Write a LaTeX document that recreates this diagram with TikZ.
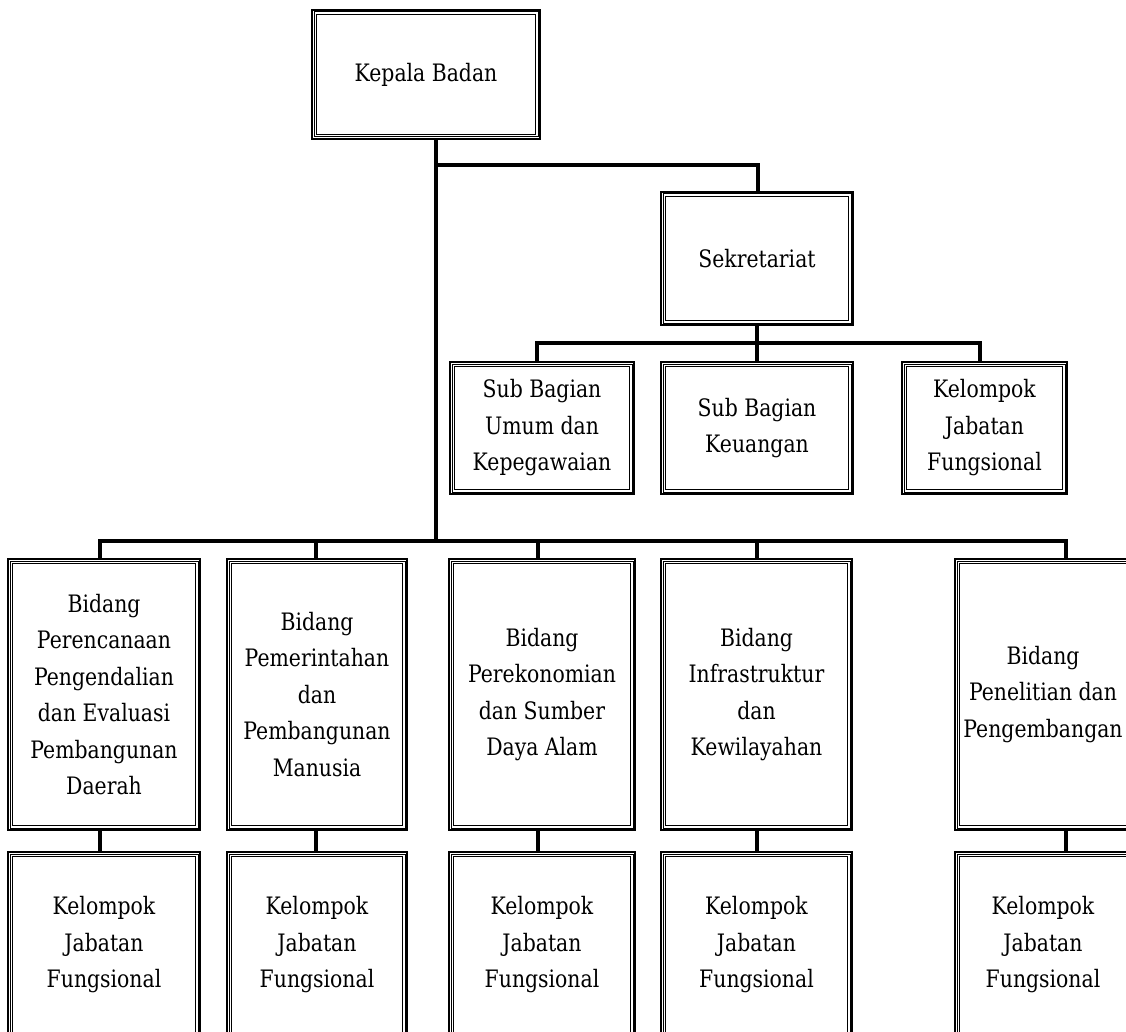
\documentclass[tikz,border=0pt]{standalone}
\usepackage{fontspec}
\setmainfont[FakeStretch=0.85]{DejaVu Serif}
\usetikzlibrary{positioning}

\tikzset{
  unit/.style={rectangle, draw, line width=2.8pt, inner sep=0pt, align=center,
    font=\fontsize{24}{36.5}\selectfont,
    append after command={\pgfextra{
      \draw[line width=1pt] ([shift={(3.4pt,-3.4pt)}]\tikzlastnode.north west) rectangle ([shift={(-3.4pt,3.4pt)}]\tikzlastnode.south east);
      \draw[line width=1.5pt] ([shift={(5.8pt,-5.8pt)}]\tikzlastnode.north west) rectangle ([shift={(-5.8pt,5.8pt)}]\tikzlastnode.south east);}}},
  link/.style={line width=3.3pt}
}

\begin{document}
\begin{tikzpicture}[x=1pt,y=-1pt]
      \useasboundingbox (0,0) rectangle (1126,1032);
      \clip (0,0) rectangle (1126,1032);
      \node[unit, minimum width=228pt, minimum height=129pt] (kepala) at (426,74.5) {Kepala Badan};
      \node[unit, minimum width=192pt, minimum height=133pt] (sek) at (757,258.5) {Sekretariat};
      \node[unit, minimum width=184pt, minimum height=132pt] (sub1) at (542,428) {Sub Bagian\\Umum dan\\Kepegawaian};
      \node[unit, minimum width=192pt, minimum height=132pt] (sub2) at (757,428) {Sub Bagian\\Keuangan};
      \node[unit, minimum width=165pt, minimum height=132pt] (sub3) at (984.5,428) {Kelompok\\Jabatan\\Fungsional};
      \node[unit, minimum width=192pt, minimum height=271pt] (bid1) at (104,694.5) {Bidang\\Perencanaan\\Pengendalian\\dan Evaluasi\\Pembangunan\\Daerah};
      \node[unit, minimum width=180pt, minimum height=271pt] (bid2) at (317,694.5) {Bidang\\Pemerintahan\\dan\\Pembangunan\\Manusia};
      \node[unit, minimum width=186pt, minimum height=271pt] (bid3) at (542,694.5) {Bidang\\Perekonomian\\dan Sumber\\Daya Alam};
      \node[unit, minimum width=191pt, minimum height=271pt] (bid4) at (756.5,694.5) {Bidang\\Infrastruktur\\dan\\Kewilayahan};
      \node[unit, minimum width=176pt, minimum height=271pt] (bid5) at (1043,694.5) {Bidang\\Penelitian dan\\Pengembangan};
      \node[unit, minimum width=192pt, minimum height=186pt] (kjf1) at (104,945) {Kelompok\\Jabatan\\Fungsional};
      \node[unit, minimum width=180pt, minimum height=186pt] (kjf2) at (317,945) {Kelompok\\Jabatan\\Fungsional};
      \node[unit, minimum width=186pt, minimum height=186pt] (kjf3) at (542,945) {Kelompok\\Jabatan\\Fungsional};
      \node[unit, minimum width=191pt, minimum height=186pt] (kjf4) at (756.5,945) {Kelompok\\Jabatan\\Fungsional};
      \node[unit, minimum width=176pt, minimum height=186pt] (kjf5) at (1043,945) {Kelompok\\Jabatan\\Fungsional};
      \coordinate (trunk) at (436,541);
      \coordinate (sekjoin) at (758,165);
      \coordinate (sj1) at (537,343);
      \coordinate (sj3) at (980,343);
      \coordinate (j1) at (100,541);
      \coordinate (j2) at (316,541);
      \coordinate (j3) at (538,541);
      \coordinate (j4) at (757,541);
      \coordinate (j5) at (1066,541);
      \draw[link] (kepala.south -| trunk) -- (trunk);
      \draw[link] (sekjoin -| trunk) -- (sekjoin) -- (sek.north -| sekjoin);
      \draw[link] (sek.south) -- (sek.south |- sj1);
      \draw[link] (sub1.north -| sj1) -- (sj1) -- (sj3) -- (sub3.north -| sj3);
      \draw[link] (sub2.north) -- (sub2.north |- sj1);
      \draw[link] (bid1.north -| j1) -- (j1) -- (j5) -- (bid5.north -| j5);
      \draw[link] (j2) -- (bid2.north -| j2);
      \draw[link] (j3) -- (bid3.north -| j3);
      \draw[link] (j4) -- (bid4.north -| j4);
      \draw[link] (bid1.south -| j1) -- (kjf1.north -| j1);
      \draw[link] (bid2.south -| j2) -- (kjf2.north -| j2);
      \draw[link] (bid3.south -| j3) -- (kjf3.north -| j3);
      \draw[link] (bid4.south -| j4) -- (kjf4.north -| j4);
      \draw[link] (bid5.south -| j5) -- (kjf5.north -| j5);
\end{tikzpicture}
\end{document}
